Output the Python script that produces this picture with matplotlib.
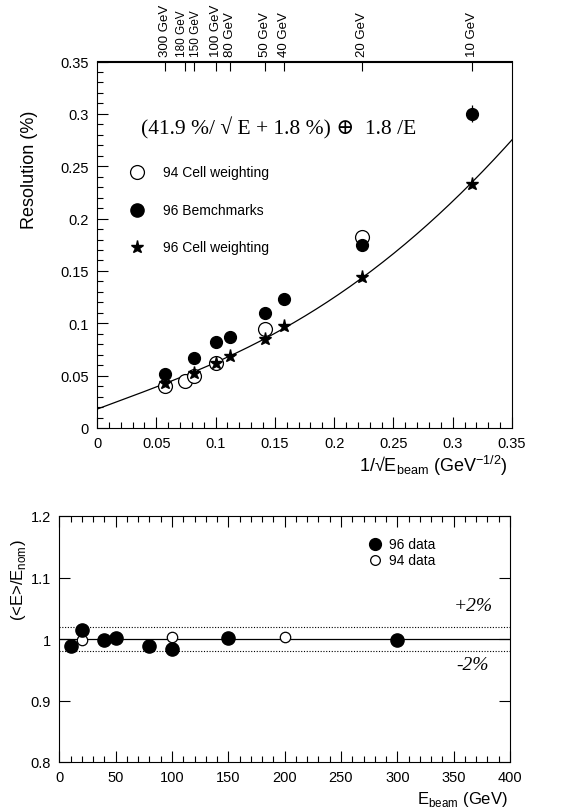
import numpy as np
import matplotlib
matplotlib.use("Agg")
import matplotlib.pyplot as plt
import matplotlib.transforms as mtransforms
from matplotlib.ticker import MultipleLocator

plt.rcParams['font.family'] = ['Liberation Sans', 'DejaVu Sans']

# ---------------- data: top panel ----------------
beam_energies = [300, 180, 150, 100, 80, 50, 40, 20, 10]
top_labels = ["300 GeV", "180 GeV", "150 GeV", "100 GeV", "80 GeV",
              "50 GeV", "40 GeV", "20 GeV", "10 GeV"]

e94_cell = [300, 180, 150, 100, 50, 20]
res94_cell = [0.040, 0.045, 0.050, 0.062, 0.095, 0.182]

e96_bench = [300, 150, 100, 80, 50, 40, 20, 10]
res96_bench = [0.052, 0.067, 0.082, 0.087, 0.110, 0.123, 0.175, 0.300]
err96_bench = [0, 0, 0, 0, 0, 0, 0, 0.008]

e96_cell = [300, 150, 100, 80, 50, 40, 20, 10]
res96_cell = [0.043, 0.053, 0.062, 0.069, 0.085, 0.097, 0.144, 0.233]

# fit parameters from the formula shown in the chart
fit_stoch = 0.419
fit_const = 0.018
fit_noise = 1.8

x_ticks = [0, 0.05, 0.1, 0.15, 0.2, 0.25, 0.3, 0.35]
x_tick_labels = ['0', '0.05', '0.1', '0.15', '0.2', '0.25', '0.3', '0.35']
y_ticks = [0, 0.05, 0.1, 0.15, 0.2, 0.25, 0.3, 0.35]
y_tick_labels = ['0', '0.05', '0.1', '0.15', '0.2', '0.25', '0.3', '0.35']

# ---------------- data: bottom panel ----------------
e96_lin = [10, 20, 40, 50, 80, 100, 150, 300]
lin96 = [0.988, 1.015, 0.999, 1.001, 0.989, 0.984, 1.001, 0.998]
e94_lin = [20, 100, 200]
lin94 = [0.998, 1.004, 1.004]

b_x_ticks = [0, 50, 100, 150, 200, 250, 300, 350, 400]
b_y_ticks = [0.8, 0.9, 1.0, 1.1, 1.2]
b_y_tick_labels = ['0.8', '0.9', '1', '1.1', '1.2']

W, H = 566, 812
fig = plt.figure(figsize=(W / 100, H / 100), dpi=100)

def fx(x):
    return x / W

def fy(y):
    return 1 - y / H

# ---------------- top panel ----------------
ax1 = fig.add_axes([97 / W, 1 - 429 / H, 415 / W, 366.5 / H])
inv = lambda e: 1 / np.sqrt(np.array(e, dtype=float))

xs = np.linspace(0, 0.35, 300)
curve = np.sqrt((fit_stoch * xs + fit_const) ** 2 + (fit_noise * xs ** 2) ** 2)
ax1.plot(xs, curve, color='black', lw=0.9, zorder=2)

ax1.plot(inv(e94_cell), res94_cell, 'o', mfc='white', mec='black', mew=0.9,
         ms=10, zorder=3)
ax1.errorbar(inv(e96_bench), res96_bench, yerr=err96_bench, fmt='o',
             color='black', ms=8.5, elinewidth=0.9, capsize=0, zorder=4)
ax1.plot(inv(e96_cell), res96_cell, '*', color='black', ms=9.5, zorder=5)

ax1.set_xlim(0, 0.35)
ax1.set_ylim(0, 0.35)
ax1.set_xticks(x_ticks, x_tick_labels)
ax1.set_yticks(y_ticks, y_tick_labels)
ax1.xaxis.set_minor_locator(MultipleLocator(0.01))
ax1.yaxis.set_minor_locator(MultipleLocator(0.01))
ax1.tick_params(which='both', direction='in', top=False, right=False,
                labelsize=10.5, width=0.8)
ax1.tick_params(which='major', length=8, pad=6)
ax1.tick_params(which='minor', length=4)
for s in ax1.spines.values():
    s.set_linewidth(0.8)

sec = ax1.secondary_xaxis('top')
sec.set_xticks(inv(beam_energies), top_labels)
sec.tick_params(direction='in', length=7, width=0.8, labelsize=9.5,
                labelrotation=90, pad=4)
sec.xaxis.set_minor_locator(plt.NullLocator())
# nudge the two crowded labels apart slightly
for lab in sec.get_xticklabels():
    txt = lab.get_text()
    if txt == "180 GeV":
        lab.set_transform(lab.get_transform() +
                          mtransforms.ScaledTranslation(-3 / 100, 0, fig.dpi_scale_trans))
        lab.set_fontsize(8.5)
    elif txt == "150 GeV":
        lab.set_transform(lab.get_transform() +
                          mtransforms.ScaledTranslation(2 / 100, 0, fig.dpi_scale_trans))
        lab.set_fontsize(8.5)

ax1.text(0.037, 0.2875, "(41.9 %/ \u221a E + 1.8 %) \u2295  1.8 /E",
         family=['Liberation Serif', 'DejaVu Serif'], fontsize=15.5,
         va='center', ha='left')

leg_x = 0.034
leg_tx = 0.056
ax1.plot([leg_x], [0.2445], 'o', mfc='white', mec='black', mew=0.9, ms=10)
ax1.text(leg_tx, 0.2445, "94 Cell weighting", fontsize=10, va='center')
ax1.plot([leg_x], [0.2085], 'o', color='black', ms=9.5)
ax1.text(leg_tx, 0.2085, "96 Bemchmarks", fontsize=10, va='center')
ax1.plot([leg_x], [0.1725], '*', color='black', ms=9.5)
ax1.text(leg_tx, 0.1725, "96 Cell weighting", fontsize=10, va='center')

fig.text(fx(30), fy(170), "Resolution (%)", rotation=90, fontsize=13,
         ha='center', va='center')
fig.text(fx(508), fy(466), "1/\u221aE$_{\\mathregular{beam}}$ (GeV$^{\\mathregular{-1/2}}$)",
         fontsize=13, ha='right', va='center')

# ---------------- bottom panel ----------------
ax2 = fig.add_axes([59.3 / W, 1 - 763 / H, 450.7 / W, 246 / H])
ax2.axhline(1.0, color='black', lw=0.9, zorder=1)
ax2.axhline(1.02, color='black', lw=0.8, ls=(0, (1, 1.5)), zorder=1)
ax2.axhline(0.98, color='black', lw=0.8, ls=(0, (1, 1.5)), zorder=1)
ax2.plot(e94_lin, lin94, 'o', mfc='white', mec='black', mew=0.9, ms=7.5,
         zorder=2)
ax2.plot(e96_lin, lin96, 'o', color='black', ms=9.5, zorder=3)

ax2.set_xlim(0, 400)
ax2.set_ylim(0.8, 1.2)
ax2.set_xticks(b_x_ticks)
ax2.xaxis.set_minor_locator(MultipleLocator(10))
ax2.set_yticks(b_y_ticks, b_y_tick_labels)
ax2.tick_params(which='both', direction='in', top=True, right=True,
                labelsize=10.5, width=0.8)
ax2.tick_params(which='major', length=8, pad=6)
ax2.tick_params(which='minor', length=4)
for s in ax2.spines.values():
    s.set_linewidth(0.8)

ax2.plot([280], [1.155], 'o', color='black', ms=8.5)
ax2.text(293, 1.155, "96 data", fontsize=10, va='center')
ax2.plot([280], [1.128], 'o', mfc='white', mec='black', mew=0.9, ms=7)
ax2.text(293, 1.128, "94 data", fontsize=10, va='center')

ax2.text(350, 1.055, "+2%", family=['Liberation Serif', 'DejaVu Serif'],
         fontsize=14, style='italic', va='center')
ax2.text(352, 0.959, "-2%", family=['Liberation Serif', 'DejaVu Serif'],
         fontsize=14, style='italic', va='center')

fig.text(fx(18), fy(580), "(<E>/E$_{\\mathregular{nom}}$)", rotation=90,
         fontsize=12, ha='center', va='center')
fig.text(fx(508), fy(800), "E$_{\\mathregular{beam}}$ (GeV)", fontsize=12,
         ha='right', va='center')

fig.savefig("out.png", dpi=100)
